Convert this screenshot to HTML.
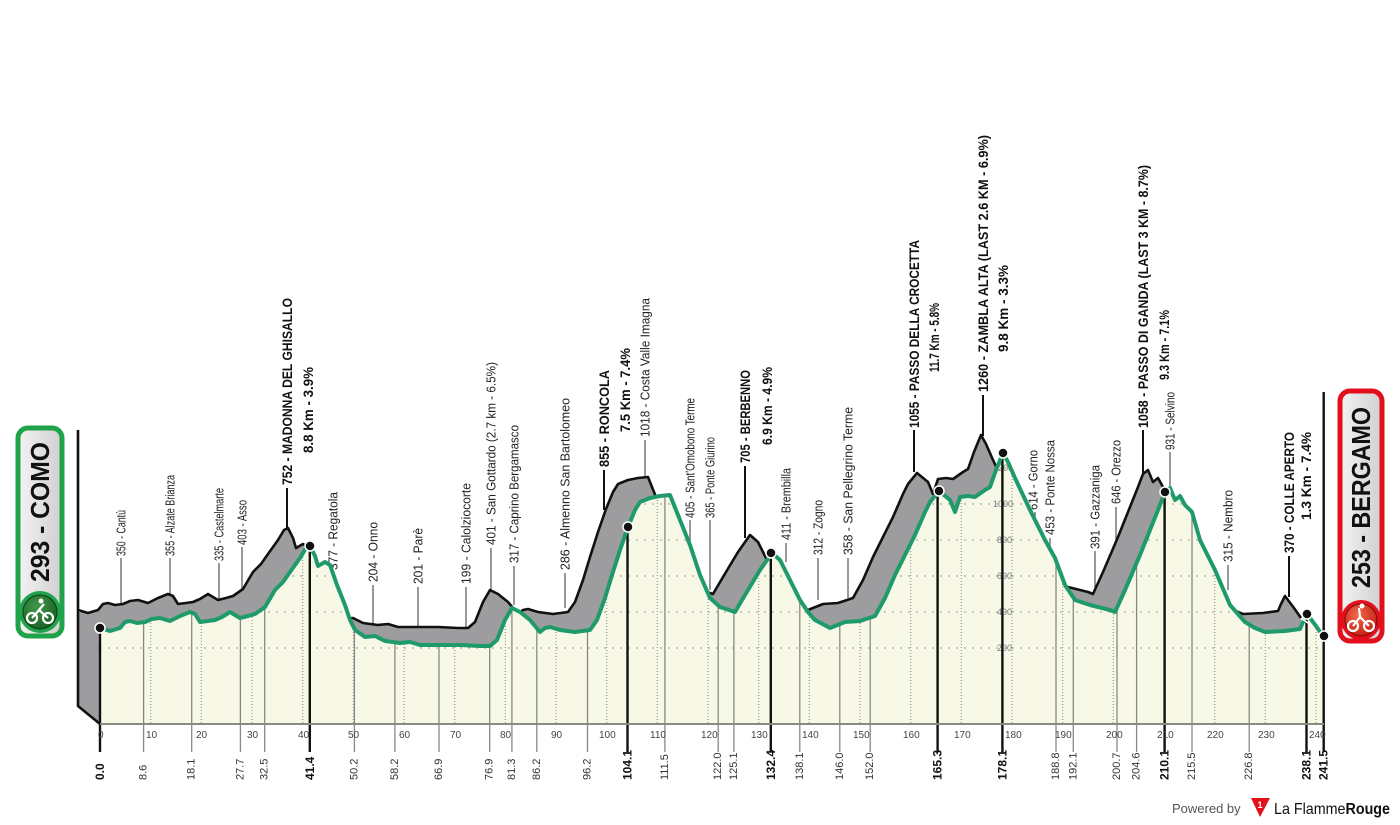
<!DOCTYPE html>
<html><head><meta charset="utf-8"><style>
html,body{margin:0;padding:0;background:#fff;}
svg{display:block;}
.l{font-family:"Liberation Sans Narrow","Liberation Sans",sans-serif;font-size:13px;fill:#222;}
.b{font-family:"Liberation Sans Narrow","Liberation Sans",sans-serif;font-size:14px;font-weight:bold;fill:#111;}
.k{font-family:"Liberation Sans Narrow","Liberation Sans",sans-serif;font-size:10px;fill:#444;}
.d{font-family:"Liberation Sans Narrow","Liberation Sans",sans-serif;font-size:11px;fill:#333;}
.db{font-family:"Liberation Sans Narrow","Liberation Sans",sans-serif;font-size:12px;font-weight:bold;fill:#111;}
.g{font-family:"Liberation Sans",sans-serif;font-size:9px;fill:#777;}
</style></head><body>
<svg width="1400" height="825" viewBox="0 0 1400 825" xmlns="http://www.w3.org/2000/svg">
<defs>
<path id="prof" d="M100,628 L110,631 120,628 125,622 130,621 137,623 145,622 152,619 160,618 170,621 180,616 190,612 195,614 200,622 208,621 215,620 222,617 230,612 240,618 248,616 255,614 265,607 275,590 283,582 290,572 300,558 306,548 310,546 315,556 318,566 325,562 330,565 337,585 345,605 350,620 355,630 365,637 375,636 385,641 400,643 410,642 420,645 440,645 460,645 480,646 490,646 497,640 505,620 512,608 520,612 530,620 535,626 540,632 545,628 550,627 560,630 575,632 590,630 597,620 605,598 612,575 620,550 628,527 635,510 640,502 650,498 660,496 670,495 680,520 690,545 700,575 710,598 720,607 735,612 745,595 760,570 772,553 780,560 790,580 800,600 808,612 815,620 830,628 845,622 860,621 875,616 885,598 895,575 905,555 915,535 925,512 930,502 939,491 950,500 955,512 960,497 968,496 975,497 985,490 990,487 996,470 1003,453 1008,462 1015,478 1030,510 1045,540 1055,558 1065,585 1075,600 1090,605 1110,610 1115,612 1125,590 1140,555 1150,530 1160,505 1165,492 1170,488 1175,500 1180,496 1185,505 1192,512 1200,540 1215,570 1230,605 1245,622 1255,628 1265,632 1285,631 1300,629 1303,622 1307,614 1316,626 1323,636"/>
<path id="area" d="M100,628 L110,631 120,628 125,622 130,621 137,623 145,622 152,619 160,618 170,621 180,616 190,612 195,614 200,622 208,621 215,620 222,617 230,612 240,618 248,616 255,614 265,607 275,590 283,582 290,572 300,558 306,548 310,546 315,556 318,566 325,562 330,565 337,585 345,605 350,620 355,630 365,637 375,636 385,641 400,643 410,642 420,645 440,645 460,645 480,646 490,646 497,640 505,620 512,608 520,612 530,620 535,626 540,632 545,628 550,627 560,630 575,632 590,630 597,620 605,598 612,575 620,550 628,527 635,510 640,502 650,498 660,496 670,495 680,520 690,545 700,575 710,598 720,607 735,612 745,595 760,570 772,553 780,560 790,580 800,600 808,612 815,620 830,628 845,622 860,621 875,616 885,598 895,575 905,555 915,535 925,512 930,502 939,491 950,500 955,512 960,497 968,496 975,497 985,490 990,487 996,470 1003,453 1008,462 1015,478 1030,510 1045,540 1055,558 1065,585 1075,600 1090,605 1110,610 1115,612 1125,590 1140,555 1150,530 1160,505 1165,492 1170,488 1175,500 1180,496 1185,505 1192,512 1200,540 1215,570 1230,605 1245,622 1255,628 1265,632 1285,631 1300,629 1303,622 1307,614 1316,626 1323,636 L1323,724 L100,724 Z"/>
<clipPath id="clipA"><use href="#area"/></clipPath>
<linearGradient id="bg1" x1="0" x2="1" y1="0" y2="0"><stop offset="0" stop-color="#f4f4f4"/><stop offset="1" stop-color="#cfcfcf"/></linearGradient>
<radialGradient id="gc" cx="0.4" cy="0.35" r="0.7"><stop offset="0" stop-color="#3f9a48"/><stop offset="1" stop-color="#1b5e25"/></radialGradient>
<radialGradient id="rc" cx="0.4" cy="0.35" r="0.7"><stop offset="0" stop-color="#f06a4a"/><stop offset="1" stop-color="#c41d12"/></radialGradient>
</defs>

<g class="l">
<text transform="translate(121,556) rotate(-90)" dominant-baseline="central" textLength="46" lengthAdjust="spacingAndGlyphs">350 - Cantù</text>
<text transform="translate(170,556) rotate(-90)" dominant-baseline="central" textLength="81" lengthAdjust="spacingAndGlyphs">355 - Alzate Brianza</text>
<text transform="translate(219,561) rotate(-90)" dominant-baseline="central" textLength="73" lengthAdjust="spacingAndGlyphs">335 - Castelmarte</text>
<text transform="translate(242,545) rotate(-90)" dominant-baseline="central" textLength="45" lengthAdjust="spacingAndGlyphs">403 - Asso</text>
<text transform="translate(333,570) rotate(-90)" dominant-baseline="central" textLength="78" lengthAdjust="spacingAndGlyphs">377 - Regatola</text>
<text transform="translate(373,582) rotate(-90)" dominant-baseline="central" textLength="60" lengthAdjust="spacingAndGlyphs">204 - Onno</text>
<text transform="translate(418,584) rotate(-90)" dominant-baseline="central" textLength="56" lengthAdjust="spacingAndGlyphs">201 - Parè</text>
<text transform="translate(466,584) rotate(-90)" dominant-baseline="central" textLength="101" lengthAdjust="spacingAndGlyphs">199 - Calolziocorte</text>
<text transform="translate(491,545) rotate(-90)" dominant-baseline="central" textLength="183" lengthAdjust="spacingAndGlyphs">401 - San Gottardo (2.7 km - 6.5%)</text>
<text transform="translate(514,563) rotate(-90)" dominant-baseline="central" textLength="138" lengthAdjust="spacingAndGlyphs">317 - Caprino Bergamasco</text>
<text transform="translate(565,570) rotate(-90)" dominant-baseline="central" textLength="172" lengthAdjust="spacingAndGlyphs">286 - Almenno San Bartolomeo</text>
<text transform="translate(645,437) rotate(-90)" dominant-baseline="central" textLength="139" lengthAdjust="spacingAndGlyphs">1018 - Costa Valle Imagna</text>
<text transform="translate(690,518) rotate(-90)" dominant-baseline="central" textLength="120" lengthAdjust="spacingAndGlyphs">405 - Sant'Omobono Terme</text>
<text transform="translate(710,518) rotate(-90)" dominant-baseline="central" textLength="81" lengthAdjust="spacingAndGlyphs">365 - Ponte Giurino</text>
<text transform="translate(786,540) rotate(-90)" dominant-baseline="central" textLength="72" lengthAdjust="spacingAndGlyphs">411 - Brembilla</text>
<text transform="translate(818,555) rotate(-90)" dominant-baseline="central" textLength="55" lengthAdjust="spacingAndGlyphs">312 - Zogno</text>
<text transform="translate(848,555) rotate(-90)" dominant-baseline="central" textLength="148" lengthAdjust="spacingAndGlyphs">358 - San Pellegrino Terme</text>
<text transform="translate(1033,510) rotate(-90)" dominant-baseline="central" textLength="60" lengthAdjust="spacingAndGlyphs">614 - Gorno</text>
<text transform="translate(1050,535) rotate(-90)" dominant-baseline="central" textLength="95" lengthAdjust="spacingAndGlyphs">453 - Ponte Nossa</text>
<text transform="translate(1095,549) rotate(-90)" dominant-baseline="central" textLength="84" lengthAdjust="spacingAndGlyphs">391 - Gazzaniga</text>
<text transform="translate(1116,504) rotate(-90)" dominant-baseline="central" textLength="64" lengthAdjust="spacingAndGlyphs">646 - Orezzo</text>
<text transform="translate(1170,450) rotate(-90)" dominant-baseline="central" textLength="58" lengthAdjust="spacingAndGlyphs">931 - Selvino</text>
<text transform="translate(1228,562) rotate(-90)" dominant-baseline="central" textLength="72" lengthAdjust="spacingAndGlyphs">315 - Nembro</text>
</g>
<g class="b">
<text transform="translate(287,485) rotate(-90)" dominant-baseline="central" textLength="187" lengthAdjust="spacingAndGlyphs">752 - MADONNA DEL GHISALLO</text>
<text transform="translate(308,453) rotate(-90)" dominant-baseline="central" textLength="86" lengthAdjust="spacingAndGlyphs">8.8 Km - 3.9%</text>
<text transform="translate(604,467) rotate(-90)" dominant-baseline="central" textLength="97" lengthAdjust="spacingAndGlyphs">855 - RONCOLA</text>
<text transform="translate(625,432) rotate(-90)" dominant-baseline="central" textLength="84" lengthAdjust="spacingAndGlyphs">7.5 Km - 7.4%</text>
<text transform="translate(745,463) rotate(-90)" dominant-baseline="central" textLength="93" lengthAdjust="spacingAndGlyphs">705 - BERBENNO</text>
<text transform="translate(767,445) rotate(-90)" dominant-baseline="central" textLength="78" lengthAdjust="spacingAndGlyphs">6.9 Km - 4.9%</text>
<text transform="translate(914,428) rotate(-90)" dominant-baseline="central" textLength="188" lengthAdjust="spacingAndGlyphs">1055 - PASSO DELLA CROCETTA</text>
<text transform="translate(934,372) rotate(-90)" dominant-baseline="central" textLength="69" lengthAdjust="spacingAndGlyphs">11.7 Km - 5.8%</text>
<text transform="translate(983,392) rotate(-90)" dominant-baseline="central" textLength="257" lengthAdjust="spacingAndGlyphs">1260 - ZAMBLA ALTA (LAST 2.6 KM - 6.9%)</text>
<text transform="translate(1003,352) rotate(-90)" dominant-baseline="central" textLength="87" lengthAdjust="spacingAndGlyphs">9.8 Km - 3.3%</text>
<text transform="translate(1143,428) rotate(-90)" dominant-baseline="central" textLength="263" lengthAdjust="spacingAndGlyphs">1058 - PASSO DI GANDA (LAST 3 KM - 8.7%)</text>
<text transform="translate(1164,380) rotate(-90)" dominant-baseline="central" textLength="70" lengthAdjust="spacingAndGlyphs">9.3 Km - 7.1%</text>
<text transform="translate(1289,553) rotate(-90)" dominant-baseline="central" textLength="121" lengthAdjust="spacingAndGlyphs">370 - COLLE APERTO</text>
<text transform="translate(1306,520) rotate(-90)" dominant-baseline="central" textLength="88" lengthAdjust="spacingAndGlyphs">1.3 Km - 7.4%</text>
</g>

<g stroke="#555" stroke-width="1.2">
<line x1="121" y1="558" x2="121" y2="603"/><line x1="170" y1="558" x2="170" y2="600"/>
<line x1="219" y1="563" x2="219" y2="605"/><line x1="242" y1="547" x2="242" y2="595"/>
<line x1="373" y1="585" x2="373" y2="625"/><line x1="418" y1="587" x2="418" y2="628"/>
<line x1="466" y1="587" x2="466" y2="628"/><line x1="491" y1="548" x2="491" y2="592"/>
<line x1="514" y1="566" x2="514" y2="605"/><line x1="565" y1="573" x2="565" y2="608"/>
<line x1="645" y1="440" x2="645" y2="478"/><line x1="690" y1="520" x2="690" y2="580"/>
<line x1="710" y1="520" x2="710" y2="590"/><line x1="786" y1="543" x2="786" y2="562"/>
<line x1="818" y1="558" x2="818" y2="600"/><line x1="848" y1="558" x2="848" y2="598"/>
<line x1="1035" y1="512" x2="1035" y2="528"/><line x1="1050" y1="538" x2="1050" y2="552"/>
<line x1="1095" y1="551" x2="1095" y2="590"/><line x1="1116" y1="507" x2="1116" y2="560"/>
<line x1="1170" y1="452" x2="1170" y2="500"/><line x1="1228" y1="565" x2="1228" y2="590"/>
</g>
<g stroke="#111" stroke-width="2">
<line x1="287" y1="488" x2="287" y2="528"/><line x1="604" y1="470" x2="604" y2="510"/>
<line x1="745" y1="466" x2="745" y2="538"/><line x1="914" y1="430" x2="914" y2="472"/>
<line x1="983" y1="395" x2="983" y2="436"/><line x1="1143" y1="430" x2="1143" y2="475"/>
<line x1="1289" y1="556" x2="1289" y2="597"/>
</g>

<use href="#area" transform="translate(-22,-18)" fill="#9d9d9f"/>
<use href="#prof" transform="translate(-22,-18)" fill="none" stroke="#111" stroke-width="2.6" stroke-linejoin="round"/>
<polygon points="78,610 100,628 100,724 78,706" fill="#9d9d9f"/>
<polyline points="78,430 78,706 100,724" fill="none" stroke="#111" stroke-width="2.6"/>

<use href="#area" fill="#f7f8e6"/>
<g clip-path="url(#clipA)" stroke="#999" stroke-width="1" stroke-dasharray="2,6">
<line x1="100" y1="648" x2="1323" y2="648"/><line x1="100" y1="612" x2="1323" y2="612"/>
<line x1="100" y1="576" x2="1323" y2="576"/><line x1="100" y1="540" x2="1323" y2="540"/>
<line x1="100" y1="504" x2="1323" y2="504"/><line x1="100" y1="468" x2="1323" y2="468"/>
</g>
<g clip-path="url(#clipA)" stroke="#888" stroke-width="1" stroke-dasharray="1,2">
<line x1="150.7" y1="440" x2="150.7" y2="724"/><line x1="201.3" y1="440" x2="201.3" y2="724"/><line x1="252" y1="440" x2="252" y2="724"/><line x1="302.7" y1="440" x2="302.7" y2="724"/><line x1="353.3" y1="440" x2="353.3" y2="724"/><line x1="404" y1="440" x2="404" y2="724"/><line x1="454.7" y1="440" x2="454.7" y2="724"/><line x1="505.3" y1="440" x2="505.3" y2="724"/><line x1="556" y1="440" x2="556" y2="724"/><line x1="606.7" y1="440" x2="606.7" y2="724"/><line x1="657.3" y1="440" x2="657.3" y2="724"/><line x1="708" y1="440" x2="708" y2="724"/><line x1="758.7" y1="440" x2="758.7" y2="724"/><line x1="809.3" y1="440" x2="809.3" y2="724"/><line x1="860" y1="440" x2="860" y2="724"/><line x1="910.7" y1="440" x2="910.7" y2="724"/><line x1="961.3" y1="440" x2="961.3" y2="724"/><line x1="1012" y1="440" x2="1012" y2="724"/><line x1="1062.7" y1="440" x2="1062.7" y2="724"/><line x1="1113.3" y1="440" x2="1113.3" y2="724"/><line x1="1164" y1="440" x2="1164" y2="724"/><line x1="1214.7" y1="440" x2="1214.7" y2="724"/><line x1="1265.3" y1="440" x2="1265.3" y2="724"/><line x1="1316" y1="440" x2="1316" y2="724"/>
</g>
<g class="g" clip-path="url(#clipA)">
<text x="997" y="651">200</text><text x="997" y="615">400</text><text x="997" y="579">600</text><text x="997" y="543">800</text><text x="993" y="507">1000</text><text x="993" y="471">1200</text>
</g>

<g stroke="#888" stroke-width="1.3">
<line x1="143.6" y1="620" x2="143.6" y2="752"/><line x1="191.7" y1="614" x2="191.7" y2="752"/><line x1="240.4" y1="618" x2="240.4" y2="752"/><line x1="264.7" y1="607" x2="264.7" y2="752"/><line x1="354.4" y1="627" x2="354.4" y2="752"/><line x1="394.9" y1="641" x2="394.9" y2="752"/><line x1="439" y1="645" x2="439" y2="752"/><line x1="489.7" y1="646" x2="489.7" y2="752"/><line x1="511.9" y1="608" x2="511.9" y2="752"/><line x1="536.8" y1="628" x2="536.8" y2="752"/><line x1="587.5" y1="631" x2="587.5" y2="752"/><line x1="664.9" y1="496" x2="664.9" y2="752"/><line x1="718.2" y1="606" x2="718.2" y2="752"/><line x1="733.9" y1="612" x2="733.9" y2="752"/><line x1="799.8" y1="600" x2="799.8" y2="752"/><line x1="839.8" y1="625" x2="839.8" y2="752"/><line x1="870.2" y1="617" x2="870.2" y2="752"/><line x1="1056" y1="558" x2="1056" y2="752"/><line x1="1073.3" y1="598" x2="1073.3" y2="752"/><line x1="1117" y1="608" x2="1117" y2="752"/><line x1="1136.6" y1="565" x2="1136.6" y2="752"/><line x1="1192" y1="512" x2="1192" y2="752"/><line x1="1249.2" y1="624" x2="1249.2" y2="752"/>
</g>
<g stroke="#111" stroke-width="2.4">
<line x1="100" y1="628" x2="100" y2="752"/><line x1="309.8" y1="546" x2="309.8" y2="752"/><line x1="627.5" y1="527" x2="627.5" y2="752"/><line x1="770.8" y1="553" x2="770.8" y2="752"/><line x1="937.6" y1="491" x2="937.6" y2="752"/><line x1="1002.4" y1="453" x2="1002.4" y2="752"/><line x1="1164.6" y1="492" x2="1164.6" y2="752"/><line x1="1306.5" y1="614" x2="1306.5" y2="752"/><line x1="1323.7" y1="636" x2="1323.7" y2="752"/>
<line x1="1323.7" y1="392" x2="1323.7" y2="636"/>
</g>
<line x1="100" y1="724" x2="1324" y2="724" stroke="#8a8a80" stroke-width="2"/>

<use href="#prof" fill="none" stroke="#1f9a6b" stroke-width="4" stroke-linejoin="round"/>
<line x1="1301" y1="618" x2="1312" y2="626" stroke="#fff" stroke-width="1.5"/>

<g fill="#111" stroke="#fff" stroke-width="1.5">
<circle cx="100" cy="628" r="5"/><circle cx="310" cy="546" r="5"/><circle cx="628" cy="527" r="5"/><circle cx="771" cy="553" r="5"/><circle cx="939" cy="491" r="5"/><circle cx="1003" cy="453" r="5"/><circle cx="1165" cy="492" r="5"/><circle cx="1307" cy="614" r="5"/><circle cx="1324" cy="636" r="5"/>
</g>

<g class="k">
<text x="98" y="738">0</text><text x="146" y="738">10</text><text x="196" y="738">20</text><text x="247" y="738">30</text><text x="298" y="738">40</text><text x="348" y="738">50</text><text x="399" y="738">60</text><text x="450" y="738">70</text><text x="500" y="738">80</text><text x="551" y="738">90</text><text x="599" y="738">100</text><text x="650" y="738">110</text><text x="701" y="738">120</text><text x="751" y="738">130</text><text x="802" y="738">140</text><text x="853" y="738">150</text><text x="903" y="738">160</text><text x="954" y="738">170</text><text x="1005" y="738">180</text><text x="1055" y="738">190</text><text x="1106" y="738">200</text><text x="1157" y="738">210</text><text x="1207" y="738">220</text><text x="1258" y="738">230</text><text x="1309" y="738">240</text>
</g>
<g class="d">
<text transform="translate(143.6,780) rotate(-90)" dominant-baseline="central">8.6</text>
<text transform="translate(191.7,780) rotate(-90)" dominant-baseline="central">18.1</text>
<text transform="translate(240.4,780) rotate(-90)" dominant-baseline="central">27.7</text>
<text transform="translate(264.7,780) rotate(-90)" dominant-baseline="central">32.5</text>
<text transform="translate(354.4,780) rotate(-90)" dominant-baseline="central">50.2</text>
<text transform="translate(394.9,780) rotate(-90)" dominant-baseline="central">58.2</text>
<text transform="translate(439,780) rotate(-90)" dominant-baseline="central">66.9</text>
<text transform="translate(489.7,780) rotate(-90)" dominant-baseline="central">76.9</text>
<text transform="translate(511.9,780) rotate(-90)" dominant-baseline="central">81.3</text>
<text transform="translate(536.8,780) rotate(-90)" dominant-baseline="central">86.2</text>
<text transform="translate(587.5,780) rotate(-90)" dominant-baseline="central">96.2</text>
<text transform="translate(664.9,780) rotate(-90)" dominant-baseline="central">111.5</text>
<text transform="translate(718.2,780) rotate(-90)" dominant-baseline="central">122.0</text>
<text transform="translate(733.9,780) rotate(-90)" dominant-baseline="central">125.1</text>
<text transform="translate(799.8,780) rotate(-90)" dominant-baseline="central">138.1</text>
<text transform="translate(839.8,780) rotate(-90)" dominant-baseline="central">146.0</text>
<text transform="translate(870.2,780) rotate(-90)" dominant-baseline="central">152.0</text>
<text transform="translate(1056,780) rotate(-90)" dominant-baseline="central">188.8</text>
<text transform="translate(1073.3,780) rotate(-90)" dominant-baseline="central">192.1</text>
<text transform="translate(1117,780) rotate(-90)" dominant-baseline="central">200.7</text>
<text transform="translate(1136.6,780) rotate(-90)" dominant-baseline="central">204.6</text>
<text transform="translate(1192,780) rotate(-90)" dominant-baseline="central">215.5</text>
<text transform="translate(1249.2,780) rotate(-90)" dominant-baseline="central">226.8</text>
</g>
<g class="db">
<text transform="translate(100,780) rotate(-90)" dominant-baseline="central">0.0</text>
<text transform="translate(309.8,780) rotate(-90)" dominant-baseline="central">41.4</text>
<text transform="translate(627.5,780) rotate(-90)" dominant-baseline="central">104.1</text>
<text transform="translate(770.8,780) rotate(-90)" dominant-baseline="central">132.4</text>
<text transform="translate(937.6,780) rotate(-90)" dominant-baseline="central">165.3</text>
<text transform="translate(1002.4,780) rotate(-90)" dominant-baseline="central">178.1</text>
<text transform="translate(1164.6,780) rotate(-90)" dominant-baseline="central">210.1</text>
<text transform="translate(1306.5,780) rotate(-90)" dominant-baseline="central">238.1</text>
<text transform="translate(1323.7,780) rotate(-90)" dominant-baseline="central">241.5</text>
</g>

<rect x="18" y="428" width="44" height="208" rx="10" fill="url(#bg1)" stroke="#1fa34a" stroke-width="5"/>
<text transform="translate(40,582) rotate(-90)" dominant-baseline="central" textLength="140" lengthAdjust="spacingAndGlyphs" style="font-family:'Liberation Sans',sans-serif;font-weight:bold;font-size:26px;fill:#111">293 - COMO</text>
<circle cx="40" cy="612" r="21" fill="#1fa34a"/>
<circle cx="40" cy="612" r="17" fill="url(#gc)" stroke="#0e3d16" stroke-width="1"/>
<g fill="none" stroke="#fff" stroke-width="2.2"><circle cx="32" cy="618" r="5"/><circle cx="48" cy="618" r="5"/><path d="M32,618 L39,610 L48,618 M39,610 L44,604"/></g>
<circle cx="41" cy="601" r="2.5" fill="#fff"/>

<rect x="1340" y="391" width="42" height="250" rx="10" fill="url(#bg1)" stroke="#e3101c" stroke-width="5"/>
<text transform="translate(1361,588) rotate(-90)" dominant-baseline="central" textLength="181" lengthAdjust="spacingAndGlyphs" style="font-family:'Liberation Sans',sans-serif;font-weight:bold;font-size:26px;fill:#111">253 - BERGAMO</text>
<circle cx="1361" cy="620" r="20" fill="#e3101c"/>
<circle cx="1361" cy="620" r="16" fill="url(#rc)" stroke="#7a0d08" stroke-width="1"/>
<g fill="none" stroke="#fff" stroke-width="2.2"><circle cx="1353" cy="626" r="5"/><circle cx="1369" cy="626" r="5"/><path d="M1353,626 L1360,617 L1369,626 M1360,617 L1359,608"/></g>
<circle cx="1362" cy="606" r="2.5" fill="#fff"/>

<text x="1172" y="813" style="font-family:'Liberation Sans',sans-serif;font-size:13px;fill:#555">Powered by</text>
<polygon points="1251,798 1270,798 1260,817" fill="#e3101c"/>
<text x="1257.5" y="808" style="font-family:'Liberation Sans',sans-serif;font-size:9px;font-weight:bold;fill:#fff">1</text>
<text x="1274" y="814" textLength="116" lengthAdjust="spacingAndGlyphs" style="font-family:'Liberation Sans',sans-serif;font-size:16px;fill:#111">La Flamme<tspan font-weight="bold">Rouge</tspan></text>
</svg>
</body></html>
